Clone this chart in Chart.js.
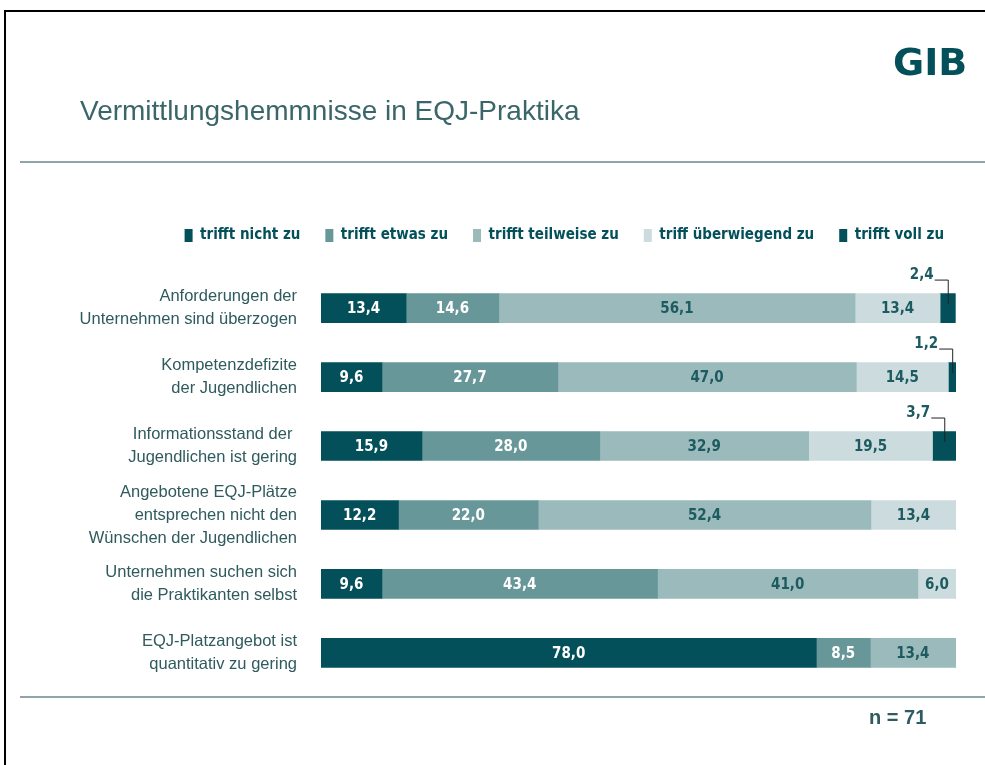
<!DOCTYPE html>
<html>
<head>
<meta charset="utf-8">
<title>Vermittlungshemmnisse in EQJ-Praktika</title>
<script src="https://cdn.jsdelivr.net/npm/chart.js@4/dist/chart.umd.min.js"></script>
<style>
  html, body { margin: 0; padding: 0; background: #fff; }
  #wrap { position: relative; width: 985px; height: 765px; }
</style>
</head>
<body>
<div id="wrap"><canvas id="chart" width="985" height="765"></canvas></div>
<script>
// categories (multi-line labels)
const categories = [
    ["Anforderungen der", "Unternehmen sind überzogen"],
    ["Kompetenzdefizite", "der Jugendlichen"],
    ["Informationsstand der ", "Jugendlichen ist gering"],
    ["Angebotene EQJ-Plätze", "entsprechen nicht den", "Wünschen der Jugendlichen"],
    ["Unternehmen suchen sich", "die Praktikanten selbst"],
    ["EQJ-Platzangebot ist", "quantitativ zu gering"]
]

const seriesNames = ["trifft nicht zu", "trifft etwas zu", "trifft teilweise zu", "triff überwiegend zu", "trifft voll zu"]

// percentages per row
const nichtZu = [13.4, 9.6, 15.9, 12.2, 9.6, 78.0]
const etwasZu = [14.6, 27.7, 28.0, 22.0, 43.4, 8.5]
const teilweiseZu = [56.1, 47.0, 32.9, 52.4, 41.0, 13.4]
const ueberwiegendZu = [13.4, 14.5, 19.5, 13.4, 6.0, 0]
const vollZu = [2.4, 1.2, 3.7, 0, 0, 0]

const sampleSize = "n = 71"

const colors = ["#03505a", "#68979a", "#9bbabc", "#ccdcde", "#03505a"]
const darkText = "#1d5b61"
const narrow = '"Liberation Sans Narrow", "Arial Narrow", "DejaVu Sans Condensed", sans-serif'
const sans = '"Liberation Sans", Arial, sans-serif'

const fmt = v => v.toFixed(1).replace(".", ",")

// value labels inside the bars, small ones above with a leader line
const valueLabels = {
    id: "valueLabels",
    afterDatasetsDraw (chart) {
        const ctx = chart.ctx
        ctx.save()
        ctx.font = "bold 15px " + narrow
        chart.data.datasets.forEach((ds, i) => {
            const meta = chart.getDatasetMeta(i)
            meta.data.forEach((bar, j) => {
                const v = ds.data[j]
                if (!v) return
                const cx = (bar.x + bar.base) / 2
                const top = bar.y - bar.height / 2
                if (v < 5) {
                    const ly = top - 14
                    ctx.fillStyle = darkText
                    ctx.textAlign = "right"
                    ctx.textBaseline = "alphabetic"
                    ctx.fillText(fmt(v), cx - 14, ly - 1)
                    ctx.strokeStyle = "#222"
                    ctx.lineWidth = 1
                    ctx.beginPath()
                    ctx.moveTo(cx - 13, ly + 0.5)
                    ctx.lineTo(cx + 0.5, ly + 0.5)
                    ctx.lineTo(cx + 0.5, bar.y - 4)
                    ctx.stroke()
                } else {
                    ctx.fillStyle = i < 2 ? "#ffffff" : darkText
                    ctx.textAlign = "center"
                    ctx.textBaseline = "middle"
                    ctx.fillText(fmt(v), cx, bar.y + 1)
                }
            })
        })
        ctx.restore()
    }
}

// page decoration: frame, title, rules, logo, sample size
const pageDecor = {
    id: "pageDecor",
    afterDraw (chart) {
        const ctx = chart.ctx
        ctx.save()
        ctx.fillStyle = "#000"
        ctx.fillRect(4, 10, 981, 2)
        ctx.fillRect(4, 10, 2, 755)

        ctx.fillStyle = "#3a666a"
        ctx.font = "28px " + sans
        ctx.textAlign = "left"
        ctx.textBaseline = "alphabetic"
        ctx.fillText("Vermittlungshemmnisse in EQJ-Praktika", 80, 120)

        ctx.fillStyle = "#8fa5a8"
        ctx.fillRect(20, 161, 965, 2)
        ctx.fillRect(20, 696, 965, 2)

        ctx.fillStyle = "#03505a"
        ctx.font = 'bold 38px "DejaVu Sans", sans-serif'
        ctx.fillText("GIB", 893, 75)

        ctx.fillStyle = "#2f5c61"
        ctx.font = "bold 20px " + sans
        ctx.fillText(sampleSize, 869, 724)
        ctx.restore()
    }
}

const seriesData = [nichtZu, etwasZu, teilweiseZu, ueberwiegendZu, vollZu]

const config = {
    type: "bar",
    data: {
        labels: categories,
        datasets: seriesData.map((d, i) => ({
            label: seriesNames[i],
            data: d,
            backgroundColor: colors[i],
            borderWidth: 0,
            barThickness: 29
        }))
    },
    options: {
        indexAxis: "y",
        responsive: false,
        animation: false,
        layout: { padding: { top: 203, left: 0, right: 16, bottom: 77.6 } },
        plugins: {
            tooltip: { enabled: false },
            legend: {
                position: "top",
                align: "end",
                labels: {
                    boxWidth: 8,
                    boxHeight: 13,
                    padding: 25,
                    color: "#03505a",
                    font: { family: narrow, size: 15, weight: "bold" }
                }
            }
        },
        scales: {
            x: {
                stacked: true,
                min: 0,
                max: 100,
                position: "top",
                grid: { display: false, drawTicks: false },
                border: { display: false },
                ticks: { display: false },
                afterFit (s) { s.height = 20.6 }
            },
            y: {
                stacked: true,
                grid: { display: false, drawTicks: false },
                border: { display: false },
                ticks: {
                    autoSkip: false,
                    padding: 24,
                    color: "#2f5a5e",
                    font: { family: sans, size: 16.5, lineHeight: 23 / 16.5 }
                },
                afterFit (s) { s.width = 321 }
            },
            // empty spacer so the legend can reach further right than the bars
            yRight: {
                axis: "y",
                position: "right",
                grid: { display: false, drawTicks: false },
                border: { display: false },
                ticks: { display: false },
                afterFit (s) { s.width = 13 }
            }
        }
    },
    plugins: [valueLabels, pageDecor]
}

const chart = new Chart(document.getElementById("chart").getContext("2d"), config)
</script>
</body>
</html>
